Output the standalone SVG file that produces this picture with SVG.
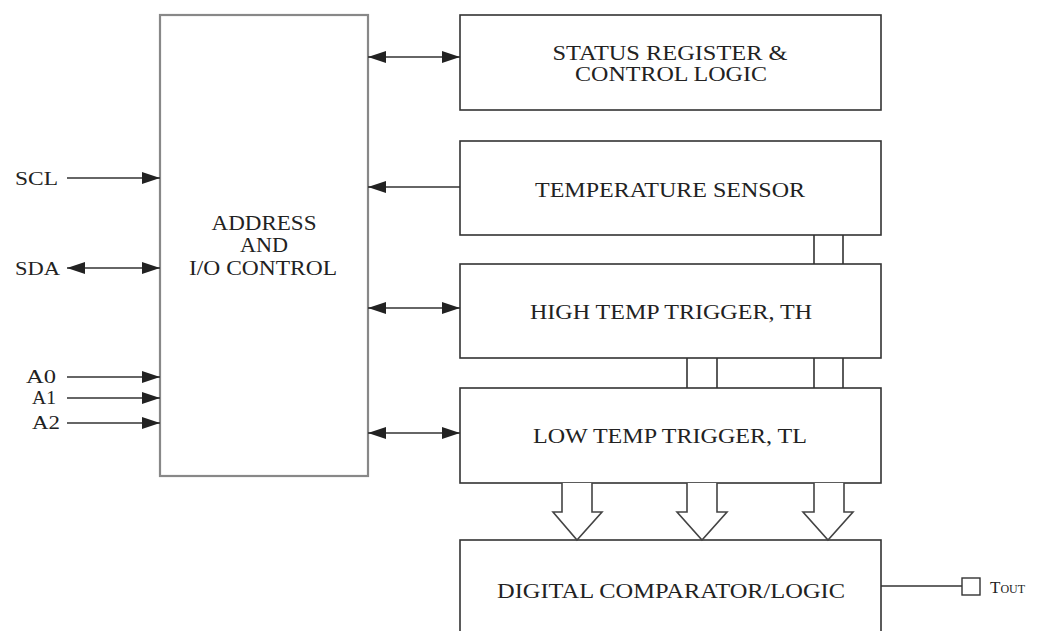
<svg xmlns="http://www.w3.org/2000/svg" width="1040" height="631" viewBox="0 0 1040 631">
<style>
.box{fill:#fff;stroke:#333;stroke-width:1.6}
.abox{fill:#fff;stroke:#888;stroke-width:2.2}
.ln{stroke:#333;stroke-width:1.6;fill:none}
.big{fill:#fff;stroke:#444;stroke-width:1.6}
text{font-family:"Liberation Serif","Times New Roman",serif;fill:#222}
.t{font-size:20px;text-anchor:middle}
.l{font-size:18px}
</style>
<defs>
<marker id="ah" markerUnits="userSpaceOnUse" markerWidth="18" markerHeight="12" refX="18" refY="6" orient="auto-start-reverse">
<path d="M0,0 L18,6 L0,12 Z" fill="#222"/>
</marker>
</defs>
<rect width="1040" height="631" fill="#fff"/>
<g id="address">
<rect class="abox" x="160" y="15" width="208" height="461"/>
<text class="t" x="264" y="230" textLength="105" lengthAdjust="spacingAndGlyphs">ADDRESS</text>
<text class="t" x="264" y="252" textLength="48" lengthAdjust="spacingAndGlyphs">AND</text>
<text class="t" x="263" y="275" textLength="148" lengthAdjust="spacingAndGlyphs">I/O CONTROL</text>
</g>
<g id="status">
<rect class="box" x="460" y="15" width="421" height="95"/>
<text class="t" x="670" y="60" textLength="235" lengthAdjust="spacingAndGlyphs">STATUS REGISTER &amp;</text>
<text class="t" x="671" y="81" textLength="192" lengthAdjust="spacingAndGlyphs">CONTROL LOGIC</text>
</g>
<g id="tempsensor">
<rect class="box" x="460" y="141" width="421" height="94"/>
<text class="t" x="670" y="197" textLength="270" lengthAdjust="spacingAndGlyphs">TEMPERATURE SENSOR</text>
</g>
<g id="hightemp">
<rect class="box" x="460" y="264" width="421" height="94"/>
<text class="t" x="671" y="319" textLength="282" lengthAdjust="spacingAndGlyphs">HIGH TEMP TRIGGER, TH</text>
</g>
<g id="lowtemp">
<rect class="box" x="460" y="388" width="421" height="95"/>
<text class="t" x="670" y="443" textLength="274" lengthAdjust="spacingAndGlyphs">LOW TEMP TRIGGER, TL</text>
</g>
<g id="comparator">
<rect class="box" x="460" y="540" width="421" height="110"/>
<text class="t" x="671" y="598" textLength="348" lengthAdjust="spacingAndGlyphs">DIGITAL COMPARATOR/LOGIC</text>
</g>
<g id="labels">
<text class="l" x="15" y="185" textLength="43" lengthAdjust="spacingAndGlyphs">SCL</text>
<text class="l" x="15" y="275" textLength="45" lengthAdjust="spacingAndGlyphs">SDA</text>
<text class="l" x="26" y="383" textLength="30" lengthAdjust="spacingAndGlyphs">A0</text>
<text class="l" x="32" y="404" textLength="24" lengthAdjust="spacingAndGlyphs">A1</text>
<text class="l" x="32" y="429" textLength="28" lengthAdjust="spacingAndGlyphs">A2</text>
</g>
<g id="tout">
<rect x="962" y="578" width="18" height="17" fill="#fff" stroke="#333" stroke-width="1.4"/>
<text x="990" y="593" font-size="17">T<tspan font-size="12">OUT</tspan></text>
</g>
<g id="connectors">
<line class="ln" x1="67" y1="178" x2="160" y2="178" marker-end="url(#ah)"/>
<line class="ln" x1="67" y1="268" x2="160" y2="268" marker-start="url(#ah)" marker-end="url(#ah)"/>
<line class="ln" x1="67" y1="377" x2="160" y2="377" marker-end="url(#ah)"/>
<line class="ln" x1="67" y1="398" x2="160" y2="398" marker-end="url(#ah)"/>
<line class="ln" x1="67" y1="423" x2="160" y2="423" marker-end="url(#ah)"/>
<line class="ln" x1="368" y1="57" x2="460" y2="57" marker-start="url(#ah)" marker-end="url(#ah)"/>
<line class="ln" x1="460" y1="187" x2="368" y2="187" marker-end="url(#ah)"/>
<line class="ln" x1="368" y1="308" x2="460" y2="308" marker-start="url(#ah)" marker-end="url(#ah)"/>
<line class="ln" x1="368" y1="433" x2="460" y2="433" marker-start="url(#ah)" marker-end="url(#ah)"/>
<line class="ln" x1="814" y1="235" x2="814" y2="264"/>
<line class="ln" x1="843" y1="235" x2="843" y2="264"/>
<line class="ln" x1="687" y1="358" x2="687" y2="388"/>
<line class="ln" x1="717" y1="358" x2="717" y2="388"/>
<line class="ln" x1="814" y1="358" x2="814" y2="388"/>
<line class="ln" x1="843" y1="358" x2="843" y2="388"/>
<path class="big" d="M562,483 L562,512 L553,512 L577,540 L602,512 L592,512 L592,483"/>
<path class="big" d="M687,483 L687,512 L677,512 L702,540 L727,512 L717,512 L717,483"/>
<path class="big" d="M814,483 L814,512 L803,512 L828,540 L853,512 L844,512 L844,483"/>
<line class="ln" x1="881" y1="586" x2="962" y2="586"/>
</g>
</svg>
